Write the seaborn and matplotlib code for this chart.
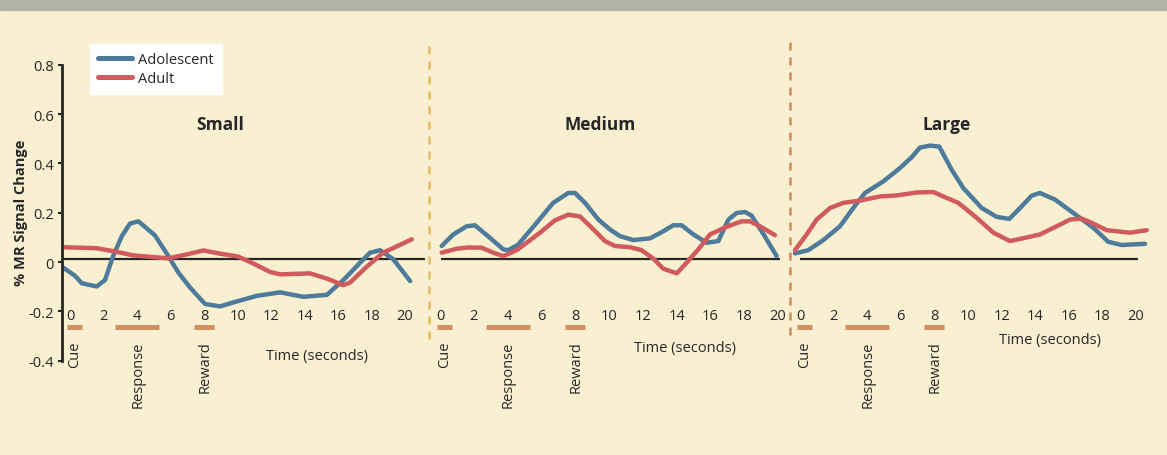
import numpy as np
import pandas as pd
import matplotlib.pyplot as plt
import seaborn as sns
from matplotlib.lines import Line2D
from matplotlib.patches import Rectangle

sns.set_style("white")
plt.rcParams['font.family'] = ['Open Sans', 'DejaVu Sans']

# values: time (s) and % MR signal change
small_adol_t = [-0.40, 0.30, 0.70, 1.59, 2.09, 2.57, 3.09, 3.58, 4.08, 5.07, 5.87, 6.47, 7.16,
                8.06, 8.96, 9.73, 11.15, 12.54, 13.93, 15.33, 16.32, 17.31, 17.91, 18.51, 19.30, 20.30]
small_adol_y = [-0.023, -0.056, -0.086, -0.099, -0.073, 0.024, 0.105, 0.156, 0.165, 0.108, 0.024, -0.043, -0.103,
                -0.170, -0.180, -0.164, -0.137, -0.123, -0.141, -0.133, -0.073, -0.003, 0.038, 0.048, 0.011, -0.077]
small_adult_t = [-0.40, 1.59, 2.59, 3.78, 4.97, 5.87, 6.97, 7.96, 8.96, 10.05, 10.94, 11.94, 12.54,
                 14.33, 15.33, 16.32, 16.72, 17.71, 18.70, 20.40]
small_adult_y = [0.060, 0.056, 0.044, 0.027, 0.020, 0.015, 0.031, 0.047, 0.034, 0.022, -0.006, -0.040, -0.050,
                 -0.046, -0.067, -0.094, -0.083, -0.019, 0.038, 0.092]

medium_adol_t = [0.10, 0.79, 1.58, 2.07, 2.96, 3.75, 4.04, 4.63, 5.72, 6.70, 7.59, 7.99, 8.58, 9.37, 10.06,
                 10.65, 11.44, 12.43, 13.22, 13.80, 14.30, 14.99, 15.78, 16.47, 17.06, 17.56, 18.05, 18.44, 19.15, 19.92]
medium_adol_y = [0.065, 0.112, 0.145, 0.149, 0.098, 0.051, 0.048, 0.071, 0.159, 0.240, 0.280, 0.280, 0.240, 0.172, 0.132,
                 0.105, 0.089, 0.096, 0.125, 0.149, 0.149, 0.112, 0.078, 0.085, 0.172, 0.199, 0.203, 0.188, 0.112, 0.024]
medium_adult_t = [0.10, 0.99, 1.67, 2.47, 3.15, 3.75, 4.54, 5.92, 6.80, 7.59, 8.28, 8.98, 9.76, 10.36,
                  11.24, 11.93, 12.62, 13.21, 14.01, 14.60, 15.28, 15.98, 16.96, 17.85, 18.34, 18.93, 19.82]
medium_adult_y = [0.038, 0.054, 0.059, 0.058, 0.038, 0.024, 0.048, 0.119, 0.169, 0.192, 0.185, 0.139, 0.085, 0.065,
                  0.060, 0.048, 0.014, -0.027, -0.046, -0.002, 0.051, 0.112, 0.143, 0.165, 0.165, 0.145, 0.109]

large_adol_t = [-0.30, 0.49, 1.39, 2.38, 3.17, 3.87, 4.96, 5.95, 6.65, 7.14, 7.74, 8.29, 9.03, 9.72, 10.82,
                11.71, 12.46, 13.10, 13.79, 14.29, 15.18, 16.27, 17.46, 18.35, 19.15, 20.54]
large_adol_y = [0.035, 0.048, 0.089, 0.145, 0.219, 0.280, 0.327, 0.381, 0.425, 0.464, 0.472, 0.468, 0.374, 0.300, 0.219,
                0.183, 0.175, 0.219, 0.269, 0.280, 0.253, 0.199, 0.139, 0.082, 0.069, 0.074]
large_adult_t = [-0.30, 0.40, 0.99, 1.79, 2.58, 3.57, 4.76, 5.76, 6.95, 7.93, 8.53, 9.42, 10.52, 11.51,
                 12.50, 13.39, 14.29, 15.28, 16.07, 16.77, 17.36, 18.26, 19.64, 20.64]
large_adult_y = [0.048, 0.112, 0.172, 0.219, 0.240, 0.249, 0.266, 0.270, 0.282, 0.284, 0.266, 0.240, 0.179, 0.119,
                 0.085, 0.098, 0.112, 0.145, 0.172, 0.176, 0.159, 0.129, 0.119, 0.129]

panel_names = ['Small', 'Medium', 'Large']
events = ['Cue', 'Response', 'Reward']
event_start = [-0.2, 2.7, 7.4]
event_end = [0.7, 5.3, 8.6]
x_ticks = [0, 2, 4, 6, 8, 10, 12, 14, 16, 18, 20]
y_ticks = [-0.4, -0.2, 0, 0.2, 0.4, 0.6, 0.8]
y_tick_labels = ['-0.4', '-0.2', '0', '0.2', '0.4', '0.6', '0.8']

colors = {'Adolescent': '#4e7a9b', 'Adult': '#d05a5e'}
bg = '#f9f0d2'
ink = '#262626'
bar_color = '#d38f5f'
fs = 10.5


def panel_df(t1, y1, t2, y2):
    a = pd.DataFrame({'time': t1, 'signal': y1, 'group': 'Adolescent'})
    b = pd.DataFrame({'time': t2, 'signal': y2, 'group': 'Adult'})
    return pd.concat([a, b], ignore_index=True)


data = [panel_df(small_adol_t, small_adol_y, small_adult_t, small_adult_y),
        panel_df(medium_adol_t, medium_adol_y, medium_adult_t, medium_adult_y),
        panel_df(large_adol_t, large_adol_y, large_adult_t, large_adult_y)]

W, H = 1167, 456
fig = plt.figure(figsize=(W / 100, H / 100), dpi=100, facecolor=bg)
fig.patches.append(Rectangle((0, 1 - 11 / H), 1, 11 / H, transform=fig.transFigure,
                             color='#b3b2a6', zorder=0))

bottom = (H - 361.7) / H
height = (361.7 - 65.7) / H
# left px, width px, xlim
layout = [(62, 363, (-0.48, 21.19)), (430, 360, (-0.59, 20.71)), (790, 370, (-0.595, 21.43))]
baseline = [(-0.48, 21.19), (0.06, 20.1), (0.0, 20.1)]
title_pos = [(8.96, 0.56), (9.5, 0.56), (8.7, 0.56)]
time_pos = [(14.75, -0.377), (14.5, -0.348), (14.9, -0.315)]

axes = []
for i, (l, w, xl) in enumerate(layout):
    ax = fig.add_axes([l / W, bottom, w / W, height])
    ax.set_facecolor('none')
    sns.lineplot(data=data[i], x='time', y='signal', hue='group', palette=colors,
                 estimator=None, sort=False, linewidth=3.2, ax=ax, legend=(i == 0))
    ax.set_xlim(*xl)
    ax.set_ylim(-0.4, 0.8)
    ax.hlines(0.013, baseline[i][0], baseline[i][1], color=ink, lw=1.6, zorder=1)
    ax.hlines([-0.265] * 3, event_start, event_end, color=bar_color, lw=3.6)
    for name, s, e in zip(events, event_start, event_end):
        ax.text((s + e) / 2 + 0.05, -0.318, name, rotation=90, ha='center', va='top',
                fontsize=fs, color=ink)
    ax.text(title_pos[i][0], title_pos[i][1], panel_names[i], ha='center', va='center',
            fontsize=12.5, fontweight='bold', color=ink)
    ax.text(time_pos[i][0], time_pos[i][1], 'Time (seconds)', ha='center', va='center',
            fontsize=fs, color=ink)

    for s in ['top', 'right']:
        ax.spines[s].set_visible(False)
    ax.spines['bottom'].set_position(('data', -0.185))
    ax.spines['bottom'].set_visible(False)
    ax.set_xticks(x_ticks)
    ax.set_xticklabels([str(v) for v in x_ticks])
    ax.tick_params(axis='x', length=0, pad=0, labelsize=fs, labelcolor=ink)
    ax.set_xlabel('')
    ax.set_ylabel('')
    if i == 0:
        ax.spines['left'].set_color(ink)
        ax.spines['left'].set_linewidth(2)
        ax.set_yticks(y_ticks)
        ax.set_yticklabels(y_tick_labels)
        ax.tick_params(axis='y', direction='out', length=3, width=1.5, color=ink, pad=3,
                       labelsize=fs, labelcolor=ink, left=True)
    else:
        ax.spines['left'].set_visible(False)
        ax.set_yticks([])
    axes.append(ax)

sns.move_legend(axes[0], 'upper left', bbox_to_anchor=(90 / W, 1 - 45 / H),
                bbox_transform=fig.transFigure, title=None, frameon=True, fancybox=False,
                facecolor='white', edgecolor='white', framealpha=1, fontsize=fs,
                handlelength=2.3, handletextpad=0.45, borderpad=0.55, labelspacing=0.3,
                borderaxespad=0)
for line in axes[0].get_legend().get_lines():
    line.set_linewidth(3.6)

fig.text(21 / W, 1 - 213 / H, '% MR Signal Change', rotation=90, ha='center', va='center',
         fontsize=fs, fontweight='bold', color=ink)

# dashed separators between the panels
dash = (0, (3.2, 2.8))
fig.add_artist(Line2D([428.5 / W, 428.5 / W], [1 - 46.7 / H, 1 - 341.7 / H], transform=fig.transFigure,
                      color='#e8b95f', lw=1.8, linestyle=dash))
fig.add_artist(Line2D([790 / W, 790 / W], [1 - 43 / H, 1 - 340 / H], transform=fig.transFigure,
                      color='#d08a5a', lw=1.8, linestyle=dash))

fig.savefig('out.png', dpi=100, facecolor=bg)
